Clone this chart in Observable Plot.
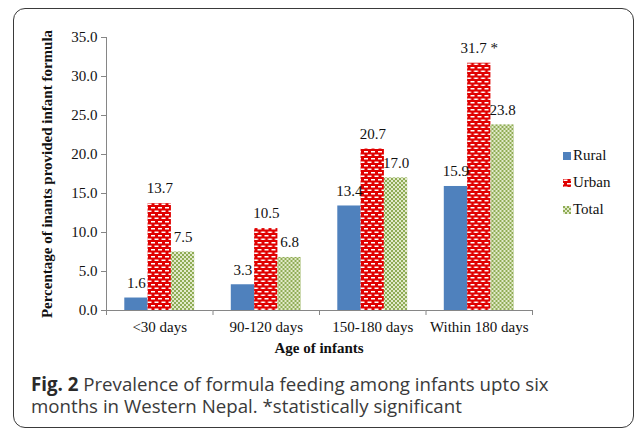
<!DOCTYPE html>
<html><head><meta charset="utf-8">
<script src="https://cdn.jsdelivr.net/npm/d3@7"></script>
<script src="https://cdn.jsdelivr.net/npm/@observablehq/plot@0.6"></script>
<style>
body{margin:0;background:#fff;width:635px;height:430px;position:relative;overflow:hidden;font-family:"Liberation Serif",serif}
#box{position:absolute;left:13px;top:8px;width:621px;height:420px;border:1.6px solid #3a3a3a;border-radius:12px;box-sizing:border-box}
#chart{position:absolute;left:0;top:0}
#chart [aria-label="y-axis label"]{font-weight:bold}
#legend{position:absolute;left:563px;top:142px;font:15px "Liberation Serif",serif;color:#111}
.item{display:flex;align-items:center;height:27px}
.sw{width:8px;height:8px;margin-right:2px;display:block}
#xlabel{position:absolute;left:106px;width:426px;top:340px;text-align:center;font:bold 15px "Liberation Serif",serif;color:#111}
.cap{position:absolute;left:31px;font:18.7px/20px "Open Sans",sans-serif;color:#3a3a3a;white-space:nowrap}
.cap b{color:#2a2a2a}
#defs{position:absolute;width:0;height:0}
</style>
</head><body>
<svg id="defs" width="0" height="0">
  <defs>
    <pattern id="urbanPat" width="7" height="7" patternUnits="userSpaceOnUse">
      <rect width="7" height="7" fill="#e00000"/>
      <rect x="0.5" y="0.5" width="4" height="1.5" fill="#fff"/>
      <rect x="4" y="4" width="4" height="1.5" fill="#fff"/>
      <rect x="-3" y="4" width="4" height="1.5" fill="#fff"/>
    </pattern>
    <pattern id="totalPat" width="4" height="4" patternUnits="userSpaceOnUse">
      <rect width="4" height="4" fill="#e2eacb"/>
      <rect x="0" y="0" width="2" height="2" fill="#8fac55"/>
      <rect x="2" y="2" width="2" height="2" fill="#8fac55"/>
    </pattern>
  </defs>
</svg>
<div id="box"></div>
<div id="chart"></div>
<div id="xlabel">Age of infants</div>
<div id="legend"></div>
<div class="cap" style="top:374px"><b>Fig. 2</b> Prevalence of formula feeding among infants upto six</div>
<div class="cap" style="top:396px">months in Western Nepal. *statistically significant</div>
<script>
const categories = ["<30 days", "90-120 days", "150-180 days", "Within 180 days"];
const series = ["Rural", "Urban", "Total"];
const rural = [1.6, 3.3, 13.4, 15.9];
const urban = [13.7, 10.5, 20.7, 31.7];
const total = [7.5, 6.8, 17.0, 23.8];
const urbanNotes = ["", "", "", " *"];
const yTicks = [0, 5, 10, 15, 20, 25, 30, 35];
const seriesFills = ["#4f81bd", "url(#urbanPat)", "url(#totalPat)"];

const valuesBySeries = {Rural: rural, Urban: urban, Total: total};
const notesBySeries = {Rural: ["", "", "", ""], Urban: urbanNotes, Total: ["", "", "", ""]};
const data = [];
categories.forEach((c, i) => {
  series.forEach(s => {
    const v = valuesBySeries[s][i];
    data.push({category: c, series: s, value: v, label: v.toFixed(1) + notesBySeries[s][i]});
  });
});

const gray = "#868686";
const fs = 15;
const chart = Plot.plot({
  width: 635,
  height: 360,
  marginTop: 37,
  marginBottom: 50,
  marginLeft: 106,
  marginRight: 103,
  style: {fontFamily: "Liberation Serif, serif", fontSize: "15px", color: "#111", background: "transparent"},
  fx: {domain: categories, padding: 0, round: false},
  x: {domain: series, paddingInner: 0, paddingOuter: 0.785, round: false, axis: null},
  y: {domain: [0, 35]},
  color: {domain: series, range: seriesFills},
  marks: [
    Plot.barY(data, {fx: "category", x: "series", y: "value", fill: "series"}),
    Plot.text(data, {fx: "category", x: "series", y: "value", text: "label", dy: -15, fontSize: fs, fill: "#111"}),
    Plot.ruleY([0], {stroke: gray}),
    Plot.frame({anchor: "left", facetAnchor: "left", stroke: gray}),
    Plot.frame({anchor: "left", stroke: gray, insetTop: 273, insetBottom: -4}),
    Plot.frame({anchor: "right", facetAnchor: "right", stroke: gray, insetTop: 273, insetBottom: -4}),
    Plot.axisY({ticks: yTicks, tickFormat: d3.format(".1f"), tickSize: 5, tickPadding: 4, stroke: gray, fill: "#111", fontSize: fs,
      label: "Percentage of inants provided infant formula", labelAnchor: "center", labelOffset: 65, labelArrow: "none"}),
    Plot.axisFx({anchor: "bottom", tickSize: 0, tickPadding: 11, label: null, fill: "#111", fontSize: fs})
  ]
});
document.getElementById("chart").appendChild(chart);

const legend = document.getElementById("legend");
series.forEach((s, i) => {
  const item = document.createElement("div");
  item.className = "item";
  item.innerHTML = `<svg class="sw" width="8" height="8"><rect width="8" height="8" fill="${seriesFills[i]}"/></svg><span>${s}</span>`;
  legend.appendChild(item);
});
</script>
</body></html>
